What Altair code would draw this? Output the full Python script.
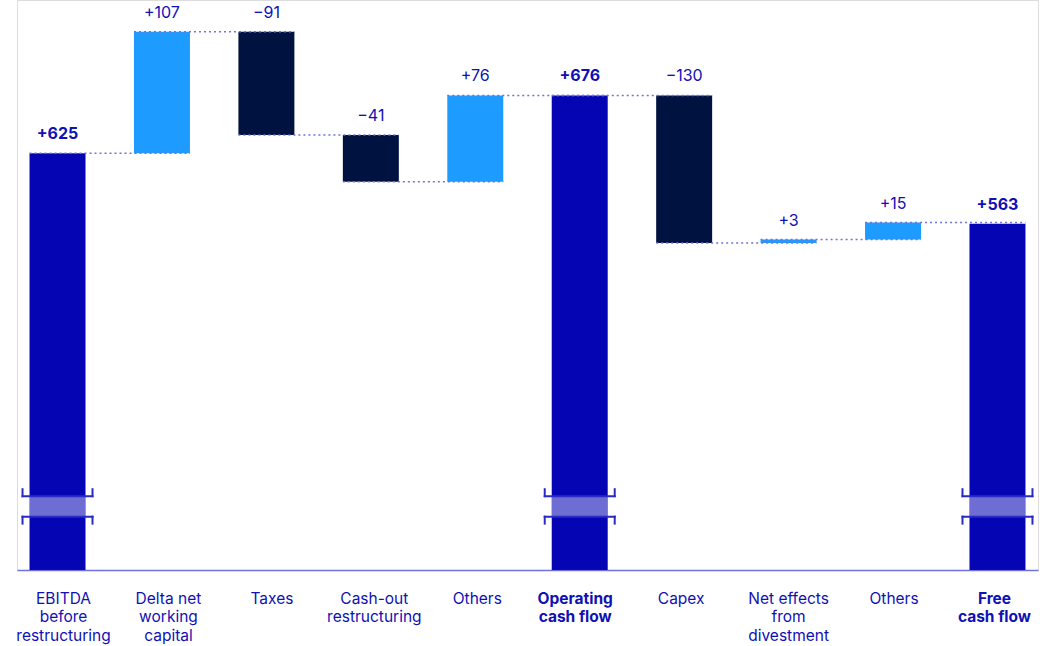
import altair as alt
import pandas as pd

# ---- data ----
categories = [
    "EBITDA|before|restructuring",
    "Delta net|working|capital",
    "Taxes",
    "Cash-out|restructuring",
    "Others",
    "Operating|cash flow",
    "Capex",
    "Net effects|from|divestment",
    "Others ",
    "Free|cash flow",
]
values = [625, 107, -91, -41, 76, 676, -130, 3, 15, 563]
kinds = ["total", "inc", "dec", "dec", "inc", "total", "dec", "inc", "inc", "total"]
value_labels = ["+625", "+107", "\u221291", "\u221241", "+76", "+676",
                "\u2212130", "+3", "+15", "+563"]
# small horizontal nudges of the category labels (px), as in the original layout
label_nudges = [6, 6.5, 5.5, 3.5, 2, -4.5, -3, 0, 1, -3]

# axis-break position (data units) and visible y-range
break_lo, break_hi = 305, 323
y_min, y_max = 258, 760

# ---- build waterfall table ----
rows = []
running = 0
for cat, v, k, lab in zip(categories, values, kinds, value_labels):
    if k == "total":
        start, end = 0, v
        running = v
    else:
        start, end = running, running + v
        running = end
    rows.append(dict(cat=cat, start=start, end=end, kind=k, label=lab,
                     top=max(start, end), level=end,
                     lo=break_lo, hi=break_hi))
df = pd.DataFrame(rows)

conn = pd.DataFrame([
    dict(a=categories[i], b=categories[i + 1], level=rows[i]["level"])
    for i in range(len(categories) - 1)
])
totals = df[df.kind == "total"]
steps = df[df.kind != "total"]

BLUE = "#0505b4"
DARK = "#00123f"
LIGHT = "#1e9bff"
TEXT = "#1010b4"
DASH = "#7272dc"
BRK = "#2a2ac4"

xscale = alt.Scale(domain=categories, paddingInner=0.464, paddingOuter=0.12)
yscale = alt.Scale(domain=[y_min, y_max], nice=False, zero=False)

bold_test = "indexof(['Operating|cash flow','Free|cash flow'], datum.value) >= 0"

offset_cond = {
    "condition": [
        {"test": f"datum.value === {c!r}", "value": n}
        for c, n in zip(categories, label_nudges)
    ],
    "value": 0,
}

x_axis = alt.Axis(
    title=None, ticks=False, labelAngle=0, domainColor=DASH, domainWidth=1.5,
    labelColor=TEXT, labelFont="Inter", labelFontSize=15.5, labelPadding=21,
    labelLineHeight=18.5, labelBaseline="top",
    labelExpr="split(datum.label, '|')",
    labelOffset=offset_cond,
    labelFontWeight={"condition": {"test": bold_test, "value": "bold"}, "value": "normal"},
)

X = alt.X("cat:N", scale=xscale, axis=x_axis, sort=categories)

bars = alt.Chart(df).mark_bar(clip=True).encode(
    x=X,
    y=alt.Y("start:Q", scale=yscale, axis=None),
    y2="end:Q",
    color=alt.Color("kind:N", scale=alt.Scale(domain=["total", "inc", "dec"],
                                              range=[BLUE, LIGHT, DARK]), legend=None),
)

band = alt.Chart(totals).mark_bar(color="white", opacity=0.42).encode(
    x=alt.X("cat:N", scale=xscale, sort=categories),
    y=alt.Y("lo:Q", scale=yscale),
    y2="hi:Q",
)

def hrule(field):
    return alt.Chart(totals).mark_rule(
        color=BRK, strokeWidth=2, strokeCap="square", xOffset=-7, x2Offset=7
    ).encode(
        x=alt.X("cat:N", scale=xscale, sort=categories, bandPosition=0),
        x2=alt.X2("cat:N", bandPosition=1),
        y=alt.Y(f"{field}:Q", scale=yscale),
    )

def vrule(field, side, off):
    return alt.Chart(totals).mark_rule(
        color=BRK, strokeWidth=2, strokeCap="square",
        xOffset=(-7 if side == 0 else 7), y2Offset=off
    ).encode(
        x=alt.X("cat:N", scale=xscale, sort=categories, bandPosition=side),
        y=alt.Y(f"{field}:Q", scale=yscale),
        y2=alt.Y2(f"{field}:Q"),
    )

brackets = [hrule("hi"), vrule("hi", 0, -7), vrule("hi", 1, -7),
            hrule("lo"), vrule("lo", 0, 7), vrule("lo", 1, 7)]

connectors = alt.Chart(conn).mark_rule(color=DASH, strokeWidth=1.5, strokeDash=[2, 3]).encode(
    x=alt.X("a:N", scale=xscale, sort=categories, bandPosition=0),
    x2=alt.X2("b:N", bandPosition=1),
    y=alt.Y("level:Q", scale=yscale),
)

def value_text(data, weight):
    return alt.Chart(data).mark_text(
        font="Inter", fontSize=16, fontWeight=weight, color=TEXT,
        baseline="alphabetic", dy=-14
    ).encode(
        x=alt.X("cat:N", scale=xscale, sort=categories),
        y=alt.Y("top:Q", scale=yscale),
        text="label:N",
    )

chart = alt.layer(bars, band, *brackets, connectors,
                  value_text(steps, "normal"), value_text(totals, "bold")).properties(
    width=1021, height=570,
    padding={"left": 17, "top": 0, "right": 6, "bottom": 76},
    autosize="none",
).configure_view(stroke=None).configure(background="white")

chart.save("out.html", embed_options={"renderer": "svg", "actions": False})
